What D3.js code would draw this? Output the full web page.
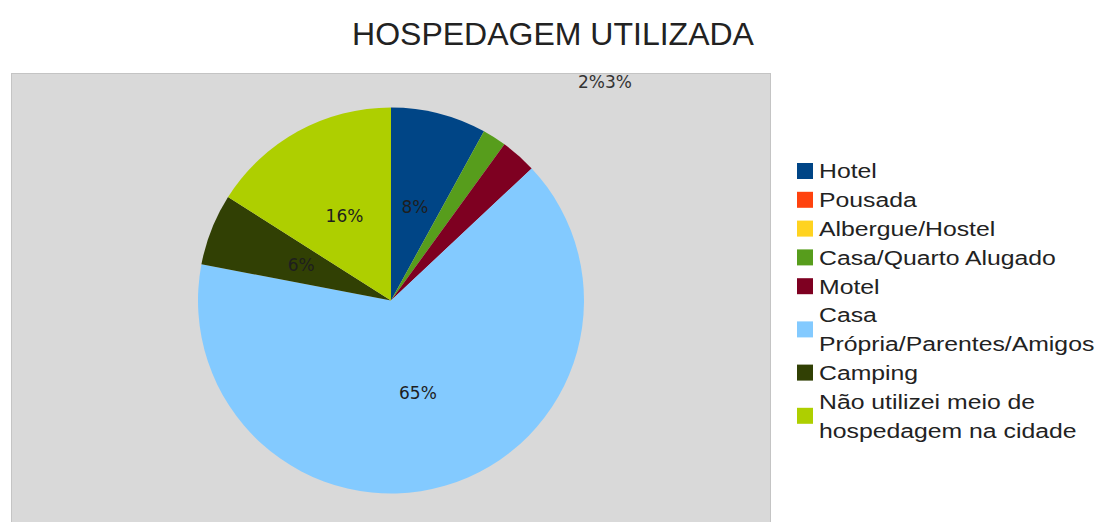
<!DOCTYPE html>
<html>
<head>
<meta charset="utf-8">
<script src="https://cdn.jsdelivr.net/npm/d3@7"></script>
<style>
  body { margin: 0; background: #fff; }
  svg { display: block; }
</style>
</head>
<body>
<script>
var w = 1101;
var h = 522;

// data
var categories = ['Hotel', 'Pousada', 'Albergue/Hostel', 'Casa/Quarto Alugado', 'Motel',
  'Casa Própria/Parentes/Amigos', 'Camping', 'Não utilizei meio de hospedagem na cidade'];
var values = [8, 0, 0, 2, 3, 65, 6, 16];
var colors = ['#004586', '#ff420e', '#ffd320', '#579d1c', '#7e0021', '#83caff', '#314004', '#aecf00'];
// how the legend wraps the long names
var legendLines = [['Hotel'], ['Pousada'], ['Albergue/Hostel'], ['Casa/Quarto Alugado'], ['Motel'],
  ['Casa', 'Própria/Parentes/Amigos'], ['Camping'], ['Não utilizei meio de', 'hospedagem na cidade']];

var cx = 391, cy = 300.5, r = 193;

var svg = d3.select('body').append('svg')
  .attr('width', w)
  .attr('height', h);

// plot area
svg.append('rect')
  .attr('x', 11.5).attr('y', 73.5)
  .attr('width', 759).attr('height', 460)
  .attr('fill', '#d9d9d9')
  .attr('stroke', '#c4c4c4');

svg.append('text')
  .attr('x', 553).attr('y', 45)
  .attr('text-anchor', 'middle')
  .style('font-family', 'Liberation Sans, Arial, sans-serif')
  .style('font-size', '32px')
  .attr('fill', '#222')
  .text('HOSPEDAGEM UTILIZADA');

var pie = d3.pie().sort(null).value(function(d) { return d; });
var arcs = pie(values);
var arc = d3.arc().innerRadius(0).outerRadius(r);

var g = svg.append('g').attr('transform', `translate(${cx},${cy})`);

g.selectAll('path')
  .data(arcs)
  .enter().append('path')
  .attr('d', arc)
  .attr('fill', function(d, i) { return colors[i]; });

var fmt = function(v) { return v + '%'; };

// labels inside the bigger slices
g.selectAll('text.in')
  .data(arcs.filter(function(d) { return d.value >= 5; }))
  .enter().append('text')
  .attr('class', 'in')
  .attr('transform', function(d) { return `translate(${arc.centroid(d)})`; })
  .attr('text-anchor', 'middle')
  .attr('dy', '0.36em')
  .style('font-family', 'DejaVu Sans, sans-serif')
  .style('font-size', '17px')
  .attr('fill', '#1e1e1e')
  .text(function(d) { return fmt(d.value); });

// the small ones are pushed above the pie, side by side
var small = arcs.filter(function(d) { return d.value > 0 && d.value < 5; });
g.append('text')
  .attr('x', 187).attr('y', -r - 20)
  .style('font-family', 'DejaVu Sans, sans-serif')
  .style('font-size', '17px')
  .attr('fill', '#333')
  .text(small.map(function(d) { return fmt(d.value); }).join(''));

// legend
var lh = 28.8;
var sx = 1.18; // legend text is drawn a bit wide
var leg = svg.append('g').attr('transform', 'translate(797,0)');
var yc = 171;
legendLines.forEach(function(lines, i) {
  var sq = yc + (lines.length - 1) * lh / 2;
  leg.append('rect')
    .attr('x', 0).attr('y', sq - 8)
    .attr('width', 16).attr('height', 16)
    .attr('fill', colors[i]);
  var t = leg.append('text')
    .attr('transform', `translate(22,0) scale(${sx},1)`)
    .style('font-family', 'Liberation Sans, Arial, sans-serif')
    .style('font-size', '21px')
    .attr('fill', '#222');
  lines.forEach(function(l, j) {
    t.append('tspan')
      .attr('x', 0)
      .attr('y', yc + j * lh + 7.5)
      .text(l);
  });
  yc += lines.length * lh;
});
</script>
</body>
</html>
